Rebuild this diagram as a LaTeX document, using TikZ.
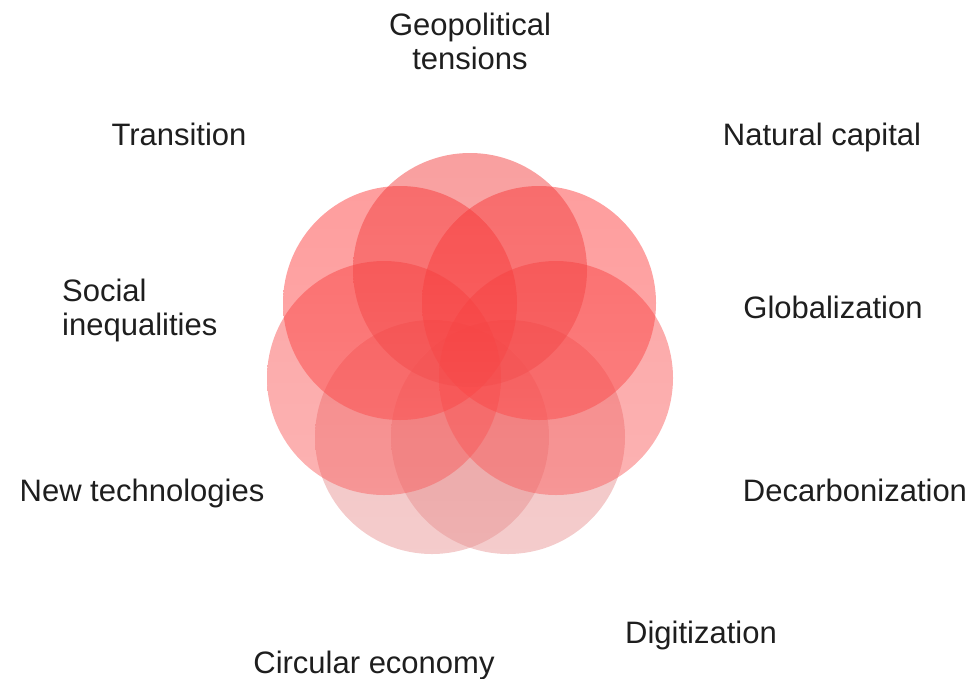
\documentclass[tikz,border=0pt]{standalone}
\usepackage{fontspec}
\setmainfont{Liberation Sans}
\begin{document}
\begin{tikzpicture}[x=1pt,y=-1pt]
\definecolor{cup}{RGB}{252,48,48}
\definecolor{ctopc}{RGB}{242,52,52}
\definecolor{cmid}{RGB}{248,70,70}
\definecolor{clow}{RGB}{228,131,131}
\definecolor{txt}{RGB}{30,30,30}
\tikzset{
  petal/.style={top color=#1, bottom color=#1!88!white, fill opacity=0.47, draw=none},
  lbl/.style={anchor=base, text=txt, font=\fontsize{31}{34}\selectfont, inner sep=0pt, align=center},
}
\useasboundingbox (0,0) rectangle (977,678);
% circles
\shade[petal=clow] (432,437) circle[radius=117pt];
\shade[petal=clow] (508,437) circle[radius=117pt];
\shade[petal=cmid] (384,378) circle[radius=117pt];
\shade[petal=cmid] (556,378) circle[radius=117pt];
\shade[petal=cup] (400,303) circle[radius=117pt];
\shade[petal=cup] (539,303) circle[radius=117pt];
\shade[petal=ctopc] (470,270) circle[radius=117pt];
% labels
\node[lbl] (geo) at (470,69) {Geopolitical\\tensions};
\node[lbl] (tra) at (179,145) {Transition};
\node[lbl] (nat) at (822,145) {Natural capital};
\node[lbl, anchor=base west, align=left] (soc) at (62,335) {Social\\inequalities};
\node[lbl] (glo) at (833,318) {Globalization};
\node[lbl] (new) at (142,501) {New technologies};
\node[lbl] (dec) at (855,501) {Decarbonization};
\node[lbl] (dig) at (701,643) {Digitization};
\node[lbl] (cir) at (374,673) {Circular economy};
\end{tikzpicture}
\end{document}
